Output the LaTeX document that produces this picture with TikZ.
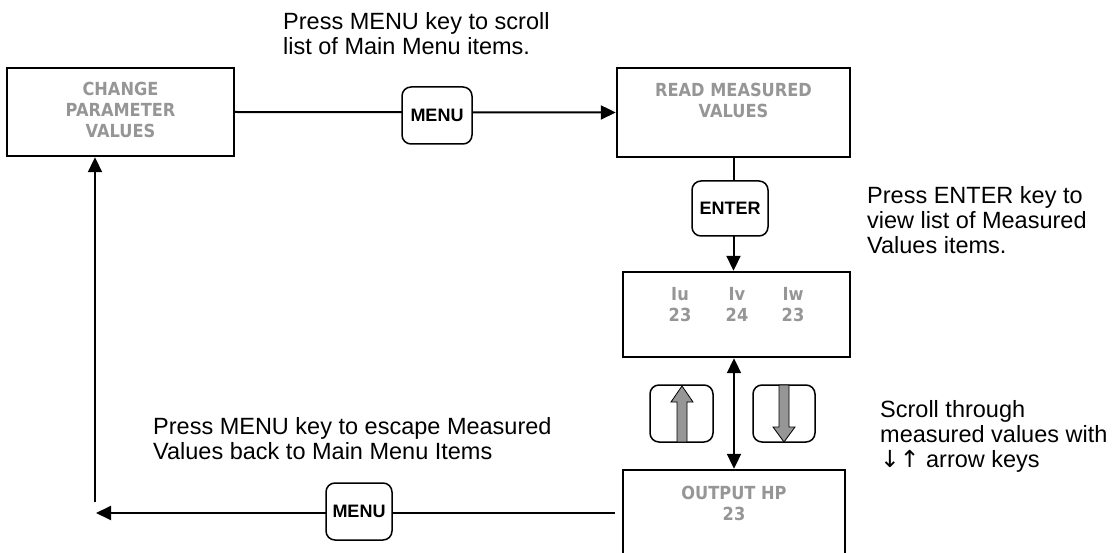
\documentclass[tikz,border=0pt]{standalone}
\usepackage{fontspec}
\setmainfont{Liberation Sans}
\newfontfamily\boxfont[FakeStretch=0.9]{DejaVu Sans Bold}
\newfontfamily\symfont{DejaVu Sans}
\usetikzlibrary{arrows.meta,calc}
\definecolor{scrgray}{RGB}{150,150,150}
\begin{document}
\begin{tikzpicture}[x=1pt,y=-1pt,
  note/.style={font=\fontsize{23.5}{25}\selectfont, align=left, inner sep=0pt, anchor=base west},
  screen/.style={draw, line width=2.4pt, inner sep=0pt, fill=white},
  screentext/.style={font=\boxfont\fontsize{18}{21}\selectfont, text=scrgray, align=center, inner sep=0pt, anchor=base},
  keybox/.style={draw, line width=1.5pt, rounded corners=9pt, fill=white, inner sep=0pt, font=\bfseries\fontsize{18}{20}\selectfont},
  conn/.style={line width=2pt},
  tip/.style={-{Triangle[length=15pt,width=14pt]}},
  dtip/.style={{Triangle[length=15pt,width=14pt]}-{Triangle[length=15pt,width=14pt]}},
  grayarrow/.style={fill=scrgray, draw=black, line width=0.8pt, line join=miter}
]
\useasboundingbox (0,0) rectangle (1114,553);
\clip (0,0) rectangle (1114,553);

% screens
\node[screen, minimum width=227pt, minimum height=88pt] (chg) at (120.5,112) {};
\node[screen, minimum width=233pt, minimum height=89pt] (read) at (733.5,112.5) {};
\node[screen, minimum width=227pt, minimum height=85pt] (iu) at (736.5,314.5) {};
\node[screen, minimum width=222pt, minimum height=120pt] (out) at (734,530) {};

\node[screentext] (chgt) at (120.5,138) {CHANGE\\PARAMETER\\VALUES};
\node[screentext] (readt) at (733.5,118) {READ MEASURED\\VALUES};
\node[screentext] (iut) at (680,322) {Iu\\23};
\node[screentext] (ivt) at (737,322) {Iv\\24};
\node[screentext] (iwt) at (793,322) {Iw\\23};
\node[screentext] (outt) at (734,520) {OUTPUT HP\\23};

% connectors
\draw[conn,tip] (chg.east) -- (read.west);
\draw[conn,tip] (read.south) -- (read.south |- iu.north);
\draw[conn,dtip] (iu.south -| out.north) -- (out.north);
\coordinate (b1) at (615,513);
\coordinate (b2) at (96,513);
\coordinate (v1) at (95,502);
\draw[conn,tip] (b1) -- (b2);
\draw[conn,tip] (v1) -- (v1 |- chg.south);

% keys
\node[keybox, minimum width=70pt, minimum height=57pt] (menu1) at (437,115.5) {MENU};
\node[keybox, minimum width=76pt, minimum height=55pt] (enter) at (730,208.5) {ENTER};
\node[keybox, minimum width=66pt, minimum height=57pt] (menu2) at (359,511.5) {MENU};
\node[keybox, minimum width=63pt, minimum height=57pt] (upkey) at (681.5,413.5) {};
\node[keybox, minimum width=62pt, minimum height=57pt] (downkey) at (784,413.5) {};

% gray arrows inside keys
\draw[grayarrow] (677,442) -- (677,402) -- (671,402) -- (682,386) -- (693,402) -- (687,402) -- (687,442) -- cycle;
\draw[grayarrow] (779,385) -- (779,427) -- (773,427) -- (784,442) -- (795,427) -- (789,427) -- (789,385) -- cycle;

% notes
\node[note] (n1) at (283,55) {Press MENU key to scroll\\list of Main Menu items.};
\node[note] (n2) at (867,254) {Press ENTER key to\\view list of Measured\\Values items.};
\node[note] (n3) at (880,467) {Scroll through\\measured values with\\{\symfont ↓↑} arrow keys};
\node[note] (n4) at (153,459) {Press MENU key to escape Measured\\Values back to Main Menu Items};
\end{tikzpicture}
\end{document}
